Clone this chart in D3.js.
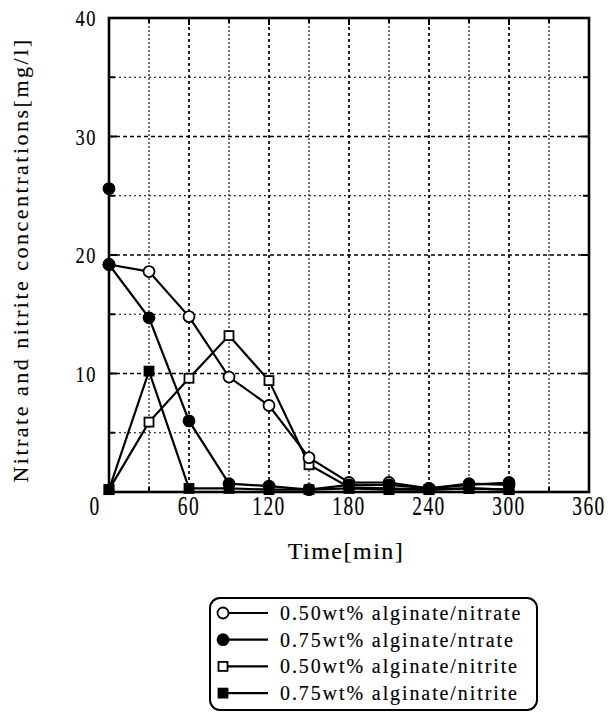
<!DOCTYPE html>
<html>
<head>
<meta charset="utf-8">
<script src="https://cdn.jsdelivr.net/npm/d3@7"></script>
<style>
  html, body { margin: 0; padding: 0; background: #fff; }
  svg { display: block; }
  text { font-family: "Liberation Serif", "DejaVu Serif", serif; fill: #000; stroke: #000; stroke-width: 0.15px; }
</style>
</head>
<body>
<svg id="chart" width="608" height="713"></svg>
<script>
// ---- data ----
const times = [0, 30, 60, 90, 120, 150, 180, 210, 240, 270, 300];
const nitrate050 = [19.2, 18.6, 14.8, 9.7, 7.3, 2.9, 0.8, 0.8, 0.3, 0.7, 0.6];
const nitrate075 = [19.2, 14.7, 6.0, 0.7, 0.5, 0.2, 0.6, 0.6, 0.3, 0.6, 0.8];
const nitrate075Initial = [{t: 0, v: 25.6}];
const nitrite050 = [0.2, 5.9, 9.6, 13.2, 9.4, 2.3, 0.4, 0.3, 0.2, 0.3, 0.2];
const nitrite075 = [0.2, 10.2, 0.3, 0.3, 0.2, 0.2, 0.3, 0.2, 0.2, 0.3, 0.2];
const xTickValues = [0, 60, 120, 180, 240, 300, 360];
const yTickValues = [10, 20, 30, 40];
const seriesNames = [
  "0.50wt% alginate/nitrate",
  "0.75wt% alginate/ntrate",
  "0.50wt% alginate/nitrite",
  "0.75wt% alginate/nitrite"
];
const xTitle = "Time[min]";
const yTitle = "Nitrate and nitrite concentrations[mg/l]";

// ---- layout ----
const svg = d3.select("#chart");
const x = d3.scaleLinear().domain([0, 360]).range([109, 589]);
const y = d3.scaleLinear().domain([0, 40]).range([492, 18]);

const series = [
  {name: seriesNames[0], values: nitrate050, shape: "circle", fill: "#fff"},
  {name: seriesNames[1], values: nitrate075, shape: "circle", fill: "#000"},
  {name: seriesNames[2], values: nitrite050, shape: "square", fill: "#fff"},
  {name: seriesNames[3], values: nitrite075, shape: "square", fill: "#000"}
];

// grid
const grid = svg.append("g");
d3.range(30, 360, 30).forEach(t => {
  const major = t % 60 === 0;
  grid.append("line")
    .attr("x1", x(t)).attr("x2", x(t)).attr("y1", y(0)).attr("y2", y(40))
    .attr("stroke", "#000")
    .attr("stroke-width", major ? 1.7 : 1.1)
    .attr("stroke-dasharray", major ? "3,3" : "2,2");
});
d3.range(5, 40, 5).forEach(v => {
  const major = v % 10 === 0;
  grid.append("line")
    .attr("x1", x(0)).attr("x2", x(360)).attr("y1", y(v)).attr("y2", y(v))
    .attr("stroke", "#000")
    .attr("stroke-width", major ? 1.7 : 1.1)
    .attr("stroke-dasharray", major ? "4,3" : "2,3");
});

// inward ticks
const ticks = svg.append("g").attr("stroke", "#000");
d3.range(30, 360, 30).forEach(t => {
  const len = t % 60 === 0 ? 7 : 5;
  ticks.append("line").attr("x1", x(t)).attr("x2", x(t)).attr("y1", y(40)).attr("y2", y(40) + len).attr("stroke-width", 2);
  ticks.append("line").attr("x1", x(t)).attr("x2", x(t)).attr("y1", y(0)).attr("y2", y(0) - len).attr("stroke-width", 2);
});
d3.range(5, 40, 5).forEach(v => {
  const len = v % 10 === 0 ? 8 : 6;
  ticks.append("line").attr("x1", x(0)).attr("x2", x(0) + len).attr("y1", y(v)).attr("y2", y(v)).attr("stroke-width", 2);
  ticks.append("line").attr("x1", x(360)).attr("x2", x(360) - len).attr("y1", y(v)).attr("y2", y(v)).attr("stroke-width", 2);
});

// frame
svg.append("rect")
  .attr("x", x(0)).attr("y", y(40))
  .attr("width", x(360) - x(0)).attr("height", y(0) - y(40))
  .attr("fill", "none").attr("stroke", "#000").attr("stroke-width", 2.6);

// axis labels
xTickValues.forEach(t => {
  const px = t === 0 ? x(t) - 14 : x(t);
  svg.append("text")
    .attr("transform", `translate(${px},${y(0) + 23}) scale(0.72,1)`)
    .attr("text-anchor", "middle")
    .attr("font-size", 27)
    .attr("letter-spacing", 2)
    .text(t);
});
yTickValues.forEach(v => {
  svg.append("text")
    .attr("transform", `translate(${x(0) - 12},${y(v) + 8}) scale(0.8,1)`)
    .attr("text-anchor", "end")
    .attr("font-size", 23)
    .attr("letter-spacing", 2)
    .text(v);
});

svg.append("text")
  .attr("x", 346).attr("y", 559)
  .attr("text-anchor", "middle")
  .attr("font-size", 24)
  .attr("letter-spacing", 1.5)
  .text(xTitle);

svg.append("text")
  .attr("transform", `translate(28,260) rotate(-90)`)
  .attr("text-anchor", "middle")
  .attr("font-size", 22)
  .attr("letter-spacing", 2.5)
  .text(yTitle);

// lines and markers
const line = d3.line().x((d, i) => x(times[i])).y(d => y(d));
const plot = svg.append("g");
series.forEach(s => {
  plot.append("path")
    .attr("d", line(s.values))
    .attr("fill", "none").attr("stroke", "#000").attr("stroke-width", 2.2);
});
function drawMarker(g, shape, fill, cx, cy) {
  if (shape === "circle") {
    g.append("circle").attr("cx", cx).attr("cy", cy).attr("r", 5.5)
      .attr("fill", fill).attr("stroke", "#000").attr("stroke-width", 1.8);
  } else {
    g.append("rect").attr("x", cx - 4.5).attr("y", cy - 4.5).attr("width", 9).attr("height", 9)
      .attr("fill", fill).attr("stroke", "#000").attr("stroke-width", 1.8);
  }
}
[series[2], series[0], series[3], series[1]].forEach(s => {
  s.values.forEach((v, i) => drawMarker(plot, s.shape, s.fill, x(times[i]), y(v)));
});
nitrate075Initial.forEach(d => drawMarker(plot, "circle", "#000", x(d.t), y(d.v)));

// legend
const lg = svg.append("g");
lg.append("rect")
  .attr("x", 210).attr("y", 598).attr("width", 327).attr("height", 112)
  .attr("rx", 10).attr("ry", 10)
  .attr("fill", "#fff").attr("stroke", "#000").attr("stroke-width", 2);
series.forEach((s, i) => {
  const ry = 613 + i * 26.7;
  lg.append("line").attr("x1", 223).attr("x2", 268).attr("y1", ry).attr("y2", ry)
    .attr("stroke", "#000").attr("stroke-width", 2.2);
  drawMarker(lg, s.shape, s.fill, 223, ry);
  lg.append("text")
    .attr("x", 280).attr("y", ry + 7)
    .attr("font-size", 20)
    .attr("letter-spacing", 1.9)
    .text(s.name);
});
</script>
</body>
</html>
